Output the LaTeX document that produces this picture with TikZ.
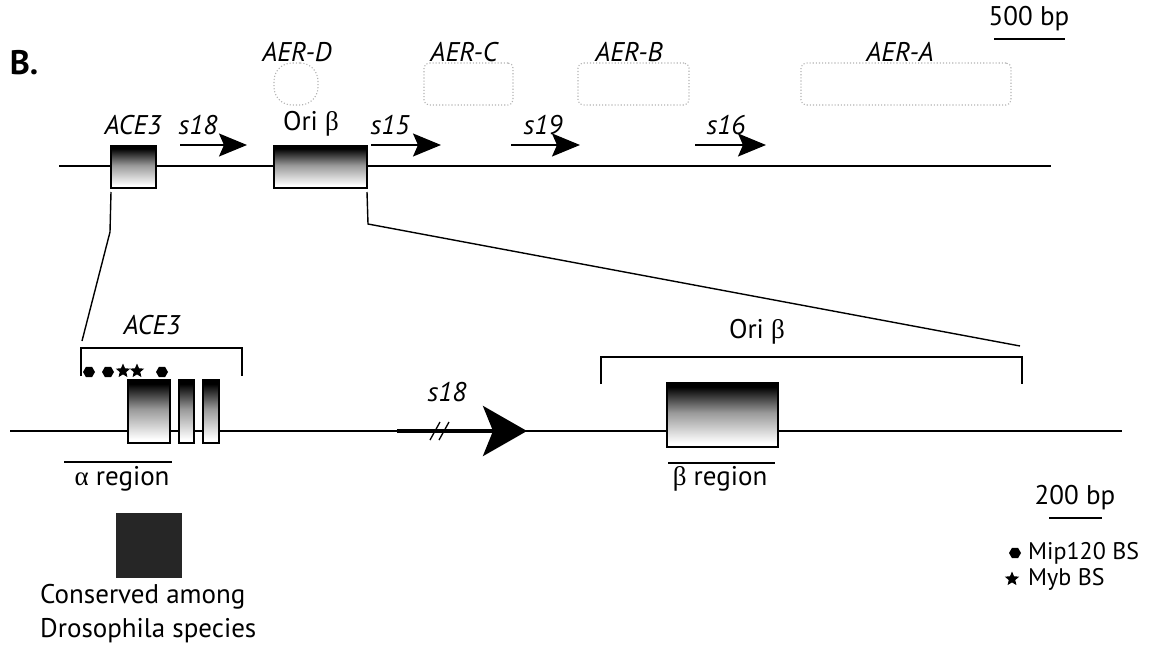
\documentclass[tikz,border=0pt]{standalone}
\usepackage{fontspec}
\setmainfont{PT Sans}
\newfontfamily\grk{Liberation Serif}
\usetikzlibrary{arrows.meta,shapes.geometric}
\pgfdeclareverticalshading{boxshade}{100bp}{color(0bp)=(white); color(28bp)=(white); color(52bp)=(black!40); color(72bp)=(black); color(100bp)=(black)}
\begin{document}
\begin{tikzpicture}[x=1pt,y=-1pt,
  lab/.style={font=\fontsize{27}{29}\selectfont, inner sep=0},
  leg/.style={font=\fontsize{24}{26}\selectfont, inner sep=0, anchor=west},
  ital/.style={font=\fontsize{27}{29}\selectfont\itshape, inner sep=0},
  gbox/.style={draw, line width=1.3pt, shade, shading=boxshade, inner sep=0, outer sep=0, anchor=north west},
  aer/.style={draw=black!30, dotted, line width=1.1pt, rounded corners=5pt, inner sep=0, outer sep=0, anchor=north west},
  sarrow/.style={line width=1.7pt, -{Stealth[length=28pt,width=23pt,inset=5pt]}},
  thin/.style={line width=1.4pt},
  hexa/.style={regular polygon, regular polygon sides=6, fill, inner sep=0, minimum size=12pt},
  mystar/.style={star, star points=5, star point ratio=2.2, fill, inner sep=0, minimum size=15pt}
]
\useasboundingbox (0,0) rectangle (1166,647);

% panel label
\node[font=\fontsize{34}{36}\selectfont\bfseries, inner sep=0] (panel) at (24,63) {B.};

% 500 bp scale
\node[lab] (sc500) at (1029,19) {500 bp};
\coordinate (sc500a) at (994,39);
\coordinate (sc500b) at (1065,39);
\draw[thin] (sc500a) -- (sc500b);

% AER labels and dotted boxes
\node[ital] (aerDl) at (297,52) {AER-D};
\node[ital] (aerCl) at (464,52) {AER-C};
\node[ital] (aerBl) at (629,52) {AER-B};
\node[ital] (aerAl) at (900,52) {AER-A};
\node[aer, rounded corners=18pt, minimum width=44pt, minimum height=42pt] (aerD) at (274,63) {};
\node[aer, minimum width=89pt, minimum height=42pt] (aerC) at (424,63) {};
\node[aer, minimum width=111pt, minimum height=42pt] (aerB) at (578,63) {};
\node[aer, minimum width=210pt, minimum height=42pt] (aerA) at (801,63) {};

% top map
\coordinate (tl) at (59,166);
\coordinate (tr) at (1051,166);
\draw[line width=1.8pt] (tl) -- (tr);
\node[gbox, minimum width=45pt, minimum height=42pt] (ace3top) at (111,146) {};
\node[gbox, minimum width=93pt, minimum height=42pt] (oritop) at (274,146) {};

\node[ital] (ace3l) at (133,125) {ACE3};
\node[lab] (oril) at (311,124) {Ori {\grk β}};
\node[ital] (s18l) at (198,125) {s18};
\node[ital] (s15l) at (390,125) {s15};
\node[ital] (s19l) at (543,125) {s19};
\node[ital] (s16l) at (726,125) {s16};

\coordinate (a18s) at (180,145); \coordinate (a18e) at (247,145);
\coordinate (a15s) at (371,145); \coordinate (a15e) at (441,145);
\coordinate (a19s) at (511,145); \coordinate (a19e) at (580,145);
\coordinate (a16s) at (695,145); \coordinate (a16e) at (766,145);
\draw[sarrow] (a18s) -- (a18e);
\draw[sarrow] (a15s) -- (a15e);
\draw[sarrow] (a19s) -- (a19e);
\draw[sarrow] (a16s) -- (a16e);

% bottom map
\coordinate (bl) at (10,431);
\coordinate (br) at (1122,431);
\draw[line width=1.4pt] (bl) -- (br);

\node[gbox, minimum width=42pt, minimum height=63pt] (ex1) at (128,380) {};
\node[gbox, minimum width=15pt, minimum height=63pt] (ex2) at (179,380) {};
\node[gbox, minimum width=16pt, minimum height=63pt] (ex3) at (203,380) {};
\node[gbox, minimum width=111pt, minimum height=64pt] (betabox) at (667,383) {};

% ACE3 bracket
\node[ital] (ace3b) at (152,325) {ACE3};
\coordinate (ab1) at (81,376); \coordinate (ab2) at (81,348);
\coordinate (ab3) at (242,348); \coordinate (ab4) at (242,376);
\draw[thin] (ab1) -- (ab2) -- (ab3) -- (ab4);

% Ori beta bracket
\node[lab] (orib) at (757,332) {Ori {\grk β}};
\coordinate (ob1) at (601,384); \coordinate (ob2) at (601,357);
\coordinate (ob3) at (1022,357); \coordinate (ob4) at (1022,384);
\draw[thin] (ob1) -- (ob2) -- (ob3) -- (ob4);

% zoom lines
\coordinate (zl1) at (110,232);
\coordinate (zl2) at (82,341);
\coordinate (zr1) at (368,224);
\coordinate (zr2) at (1020,346);
\draw[thin] (ace3top.south west) ++(0,4) coordinate (zl0) -- (zl1) -- (zl2);
\draw[thin] (oritop.south east) ++(0,4) coordinate (zr0) -- (zr1) -- (zr2);

% binding sites
\node[hexa] (m1) at (89,372) {};
\node[hexa] (m2) at (108,372) {};
\node[hexa] (m3) at (162,372) {};
\node[mystar] (y1) at (123,371) {};
\node[mystar] (y2) at (137,371) {};

% s18 arrow bottom
\node[ital] (s18b) at (447,392) {s18};
\coordinate (sh0) at (397,431);
\coordinate (sh1) at (527,431);
\draw[line width=4pt, -{Stealth[length=44pt,width=50pt,inset=10pt]}] (sh0) -- (sh1);
\coordinate (sl1a) at (430,440); \coordinate (sl1b) at (440,422);
\coordinate (sl2a) at (439,440); \coordinate (sl2b) at (449,422);
\draw[line width=1.3pt] (sl1a) -- (sl1b);
\draw[line width=1.3pt] (sl2a) -- (sl2b);

% region labels
\coordinate (ar1) at (64,462); \coordinate (ar2) at (172,462);
\draw[thin] (ar1) -- (ar2);
\node[lab] (areg) at (122,479) {{\grk α} region};
\coordinate (br1) at (668,463); \coordinate (br2) at (775,463);
\draw[thin] (br1) -- (br2);
\node[lab] (breg) at (720,479) {{\grk β} region};

% 200 bp scale
\node[lab] (sc200) at (1075,498) {200 bp};
\coordinate (sc200a) at (1049,518);
\coordinate (sc200b) at (1102,518);
\draw[thin] (sc200a) -- (sc200b);

% legend
\node[hexa] (lgm) at (1015,553) {};
\node[leg] (lgmt) at (1028,553) {Mip120 BS};
\node[mystar] (lgy) at (1012,579) {};
\node[leg] (lgyt) at (1028,579) {Myb BS};

% conserved
\node[fill=black!85, inner sep=0, minimum width=66pt, minimum height=65pt, anchor=north west] (cons) at (116,513) {};
\node[lab, anchor=west] (cons1) at (40,597) {Conserved among};
\node[lab, anchor=west] (cons2) at (40,631) {Drosophila species};
\end{tikzpicture}
\end{document}
